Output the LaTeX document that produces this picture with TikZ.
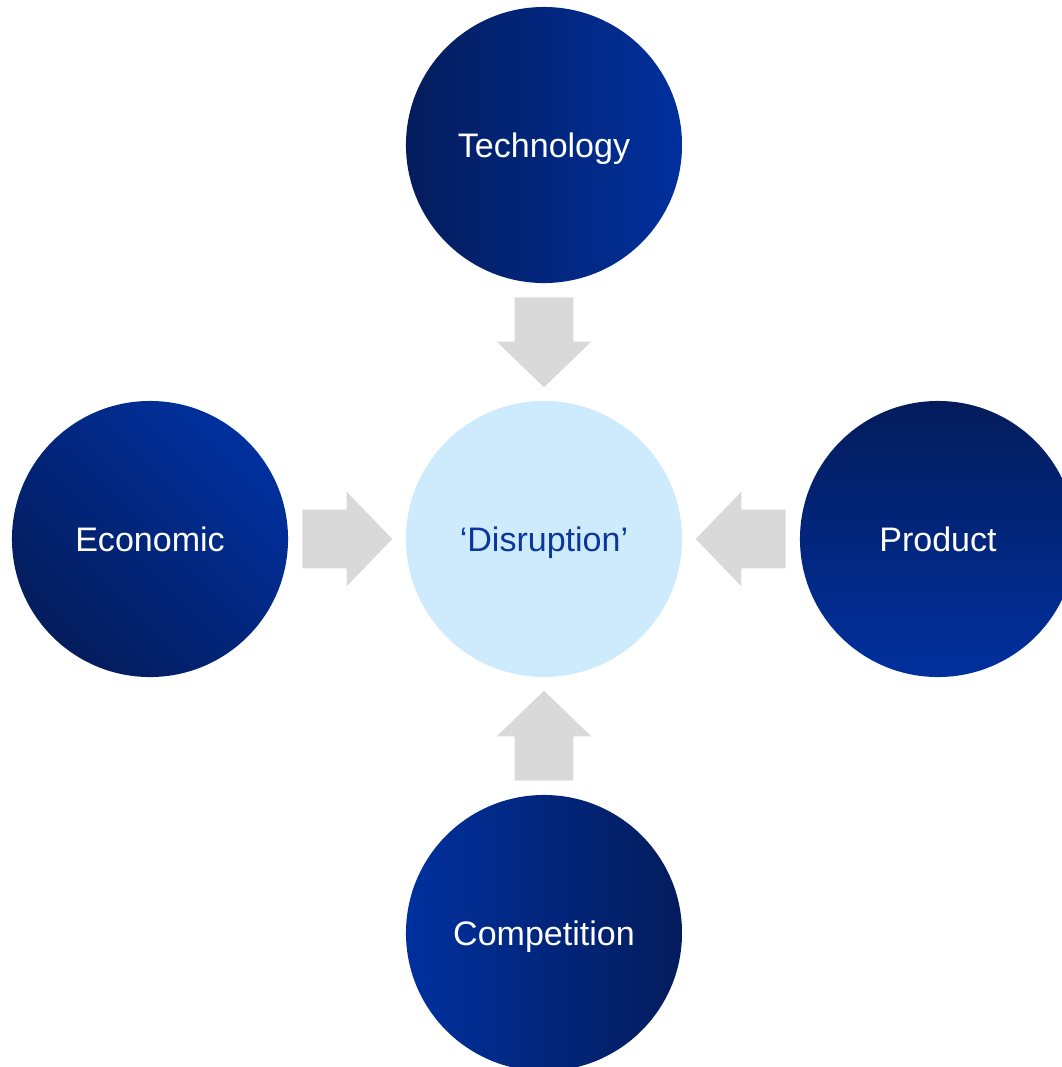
\documentclass[tikz,border=0pt]{standalone}
\usepackage{fontspec}
\setmainfont{Liberation Sans}
\usetikzlibrary{shapes.arrows,calc}

\definecolor{darkblue}{HTML}{041C5C}
\definecolor{brightblue}{HTML}{00309E}
\definecolor{paleblue}{HTML}{CDEBFD}
\definecolor{disrtext}{HTML}{0B379A}
\colorlet{blockgrey}{black!15}
\tikzset{
  force/.style={circle,minimum size=6.9cm,inner sep=0pt,text=white,
    text height=17.3pt,text depth=0pt},
  core/.style={force,fill=paleblue,text=disrtext},
  push/.style={single arrow,fill=blockgrey,draw=none,inner xsep=0pt,inner ysep=0.725cm,
    minimum height=2.25cm,anchor=tip,
    single arrow head extend=0.45cm,single arrow tip angle=92},
}

\begin{document}
\begin{tikzpicture}[
      x=0.025cm,y=-0.025cm,
      every node/.style={font=\fontsize{24.2}{29}\selectfont},
      ]
        \useasboundingbox (0,0) rectangle (1062,1067);
        \node[core] (disr) at (544,539) {‘Disruption’};
        \node[force,left color=darkblue,right color=brightblue] (tech) at (544,145) {Technology};
        \node[force,top color=brightblue,bottom color=darkblue,shading angle=-45] (econ) at (150,539) {Economic};
        \node[force,top color=darkblue,bottom color=brightblue] (prod) at (938,539) {Product};
        \node[force,left color=brightblue,right color=darkblue] (comp) at (544,933) {Competition};
        % block arrows into the centre
        \node[push,rotate=-90] at ($(disr.north)+(0,-13)$) {};
        \node[push] at ($(disr.west)+(-13,0)$) {};
        \node[push,rotate=180] at ($(disr.east)+(13,0)$) {};
        \node[push,rotate=90] at ($(disr.south)+(0,13)$) {};
      \end{tikzpicture}
\end{document}
